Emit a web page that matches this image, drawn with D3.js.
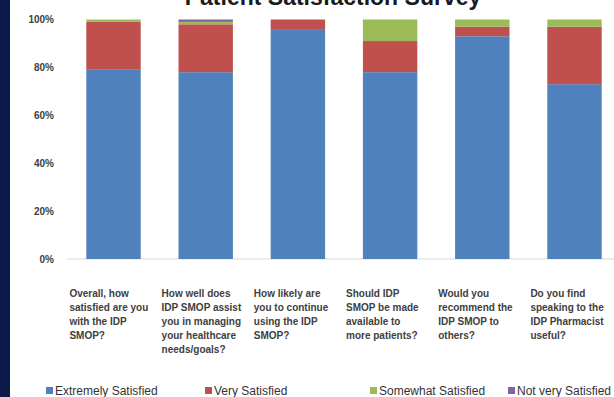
<!DOCTYPE html>
<html>
<head>
<meta charset="utf-8">
<script src="https://cdn.jsdelivr.net/npm/d3@7"></script>
<style>
  body { margin: 0; background: #fff; }
  svg { display: block; font-family: "Liberation Sans", Arial, sans-serif; }
  .tick-label { font-size: 10px; font-weight: bold; fill: #404040; }
  .cat { font-size: 10px; font-weight: bold; fill: #404040; }
  .legend text { font-size: 12px; fill: #333; }
</style>
</head>
<body>
<div id="chart"></div>
<script>
// questions (one line of text per entry)
const categories = [
  ["Overall, how", "satisfied are you", "with the IDP", "SMOP?"],
  ["How well does", "IDP SMOP assist", "you in managing", "your healthcare", "needs/goals?"],
  ["How likely are", "you to continue", "using the IDP", "SMOP?"],
  ["Should IDP", "SMOP be made", "available to", "more patients?"],
  ["Would you", "recommend the", "IDP SMOP to", "others?"],
  ["Do you find", "speaking to the", "IDP Pharmacist", "useful?"]
];
const seriesNames = ["Extremely Satisfied", "Very Satisfied", "Somewhat Satisfied", "Not very Satisfied"];
const extremely = [79, 78, 96, 78, 93, 73];
const very      = [20, 20, 4, 13, 4, 24];
const somewhat  = [1, 1, 0, 9, 3, 3];
const notVery   = [0, 1, 0, 0, 0, 0];
const yTicks = [0, 20, 40, 60, 80, 100];
const colors = ["#4f81bd", "#c0504d", "#9bbb59", "#8064a2"];

const width = 614, height = 397;
const svg = d3.select("#chart").append("svg")
    .attr("width", width)
    .attr("height", height);

svg.append("rect").attr("width", width).attr("height", height).attr("fill", "#fff");
// dark slide edge on the left
svg.append("rect").attr("x", 0).attr("y", 0).attr("width", 10).attr("height", height).attr("fill", "#0b1a48");

// title, mostly cut off at the top as in the original slide
svg.append("text")
    .attr("x", 333).attr("y", 5)
    .attr("text-anchor", "middle")
    .style("font-size", "23px").style("font-weight", "bold").style("fill", "#1a1a1a")
    .text("Patient Satisfaction Survey");

const rows = categories.map((c, i) => ({
  idx: i,
  [seriesNames[0]]: extremely[i],
  [seriesNames[1]]: very[i],
  [seriesNames[2]]: somewhat[i],
  [seriesNames[3]]: notVery[i]
}));

const x = d3.scaleBand()
    .domain(d3.range(categories.length))
    .range([67.4, 620.6])
    .paddingInner(0.41)
    .paddingOuter(0.205);

const y = d3.scaleLinear().domain([0, 100]).range([259, 19.5]);

// baseline
svg.append("line")
    .attr("x1", 67).attr("x2", width)
    .attr("y1", y(0)).attr("y2", y(0))
    .attr("stroke", "#d9d9d9");

// y axis labels
const yAxis = d3.axisLeft(y).tickValues(yTicks).tickFormat(d => d + "%").tickSize(0).tickPadding(0);
const yg = svg.append("g").attr("transform", "translate(54,0)").call(yAxis);
yg.select(".domain").remove();
yg.selectAll("text").attr("class", "tick-label");

const stack = d3.stack().keys(seriesNames);
const layers = stack(rows);

svg.selectAll("g.layer")
  .data(layers)
  .enter().append("g")
    .attr("class", "layer")
    .attr("fill", (d, i) => colors[i])
  .selectAll("rect")
  .data(d => d)
  .enter().append("rect")
    .attr("x", d => x(d.data.idx))
    .attr("width", x.bandwidth())
    .attr("y", d => y(d[1]))
    .attr("height", d => y(d[0]) - y(d[1]));

// category labels, left aligned at the band start
const step = x.step();
const catG = svg.selectAll("text.cat")
  .data(categories)
  .enter().append("text")
    .attr("class", "cat")
    .attr("x", (d, i) => x(i) - (step - x.bandwidth()) / 2 + 2)
    .attr("y", 297);
catG.selectAll("tspan")
  .data(d => d)
  .enter().append("tspan")
    .attr("x", function () { return d3.select(this.parentNode).attr("x"); })
    .attr("dy", (d, i) => i === 0 ? 0 : 14)
    .text(d => d);

// legend
const legendX = [46, 205, 370, 508];
const lg = svg.append("g").attr("class", "legend");
seriesNames.forEach((name, i) => {
  lg.append("rect")
    .attr("x", legendX[i]).attr("y", 387)
    .attr("width", 7).attr("height", 7)
    .attr("fill", colors[i]);
  lg.append("text")
    .attr("x", legendX[i] + 9).attr("y", 395)
    .text(name);
});
</script>
</body>
</html>
